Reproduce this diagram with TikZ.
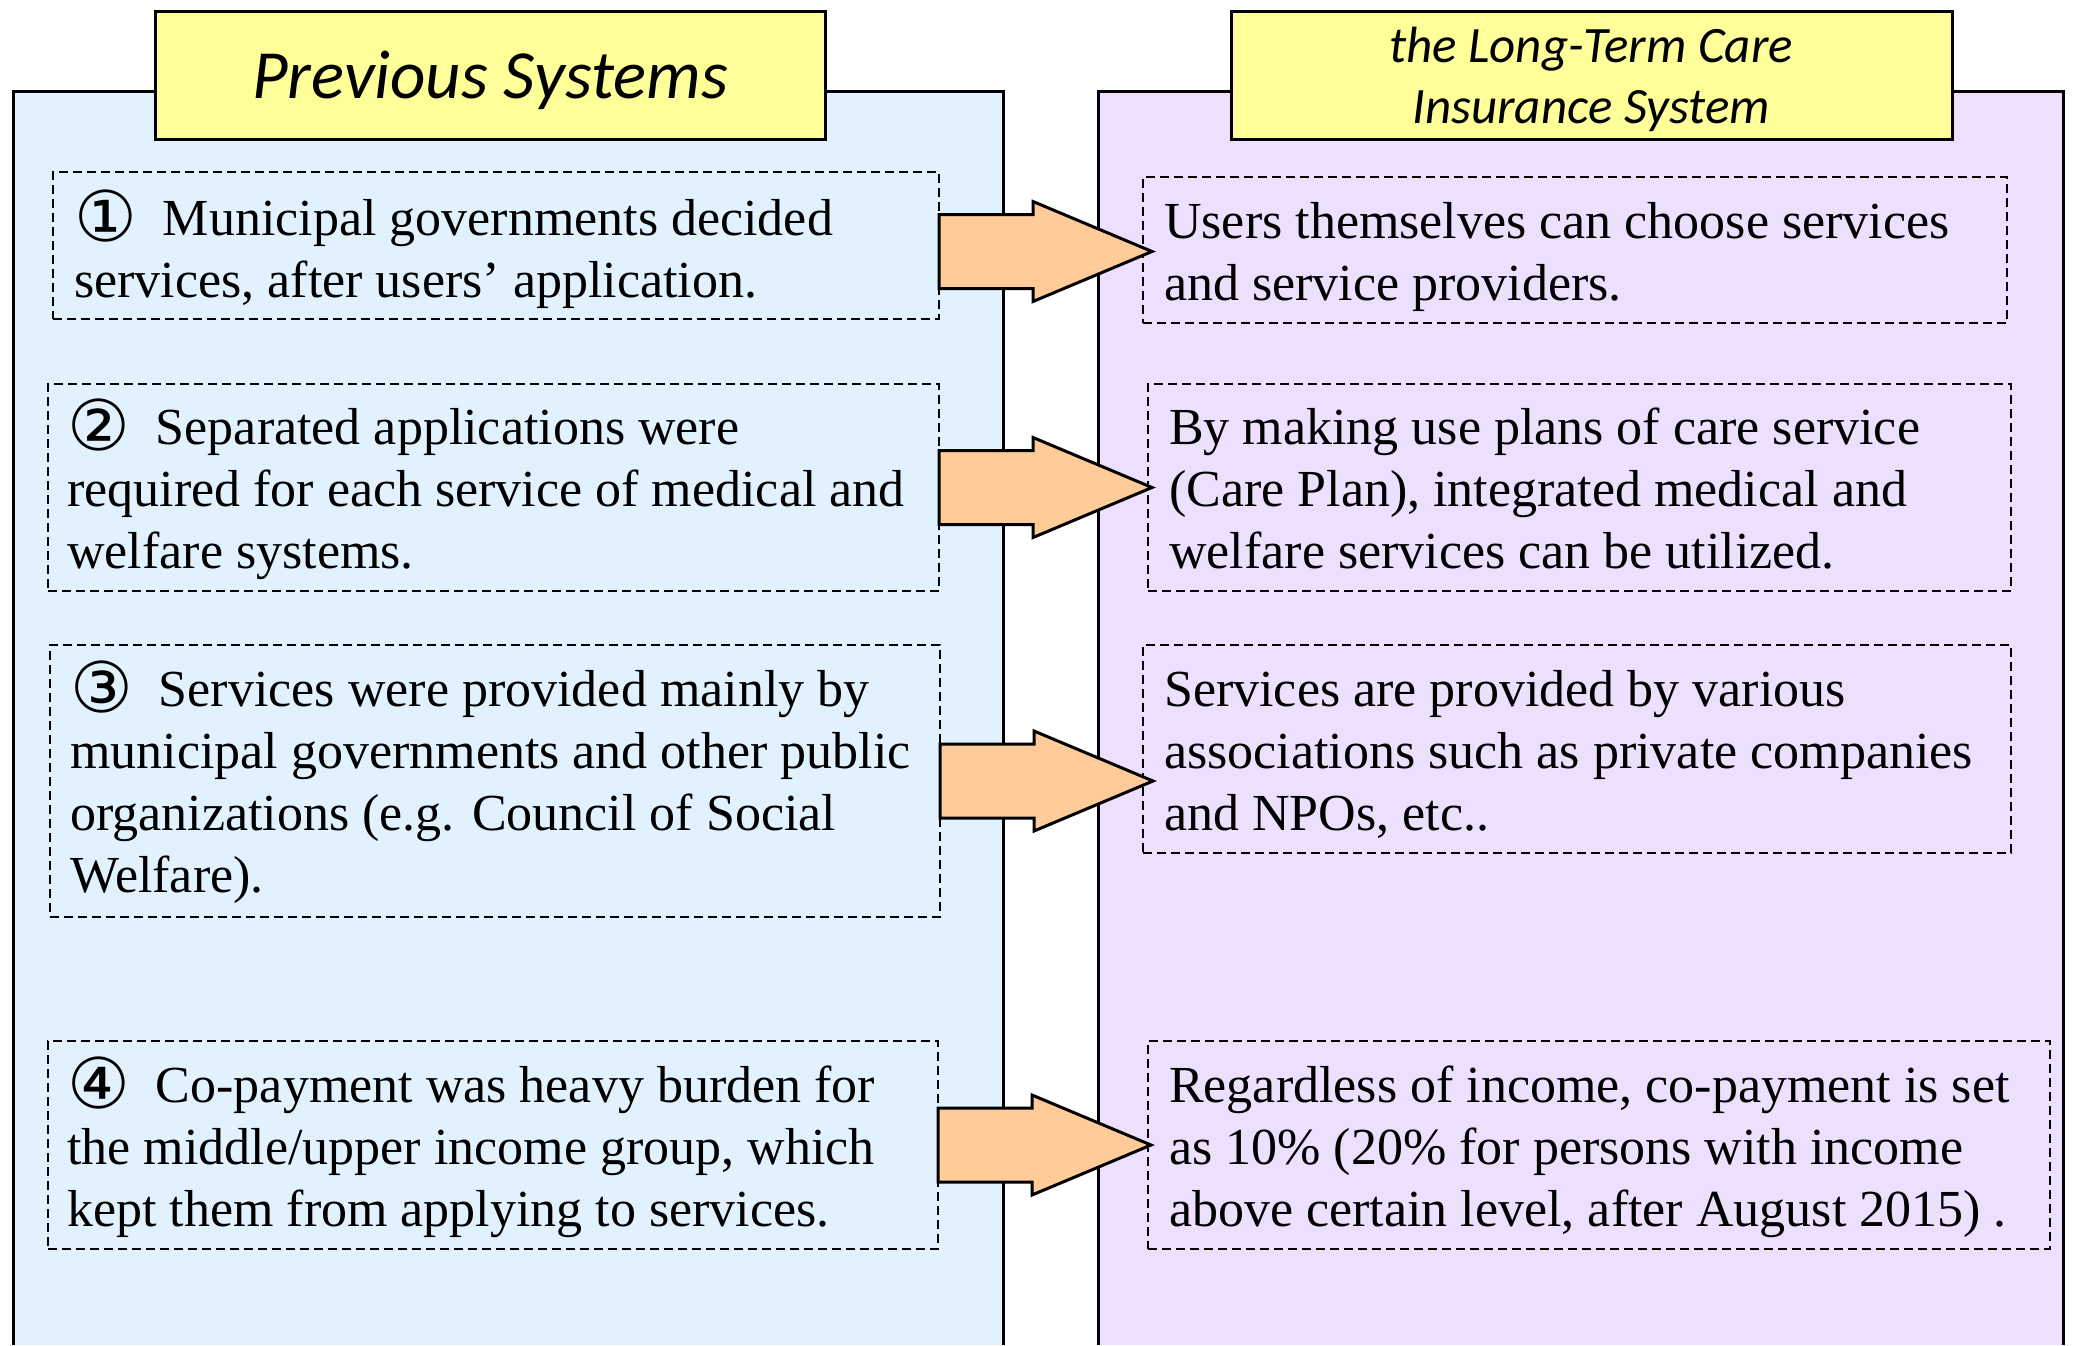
\documentclass[tikz,border=0pt]{standalone}
\usepackage{fontspec}
\setmainfont{Liberation Serif}
\newfontfamily\ttlfont{Carlito}
\newfontfamily\circfont{DejaVu Sans}
\usetikzlibrary{calc}
\definecolor{leftbg}{RGB}{225,242,254}
\definecolor{rightbg}{RGB}{237,223,254}
\definecolor{titleyellow}{RGB}{255,255,153}
\definecolor{arroworange}{RGB}{255,204,153}
\newcommand{\cnum}[1]{\raisebox{-6pt}{\circfont\fontsize{70}{70}\selectfont #1}\hspace{26pt}}
\tikzset{
  panelline/.style={line width=3pt},
  titlebox/.style={draw, line width=3pt, fill=titleyellow, inner sep=0pt, outer sep=0pt, anchor=north west},
  dashbox/.style={draw, dash pattern=on 9pt off 5pt, line width=2pt, inner sep=0pt, outer sep=0pt, anchor=north west},
  bodytext/.style={anchor=base west, inner sep=0pt, font=\fontsize{52}{62}\selectfont},
  bigarrow/.style={draw, line width=3pt, fill=arroworange, line join=miter},
}
\begin{document}
\begin{tikzpicture}[x=1pt, y=-1pt]
\useasboundingbox (0,0) rectangle (2074,1345);
% panels
\fill[leftbg] (13,91) rectangle (1003,1345);
\draw[panelline] (13,1345) -- (13,91) -- (1003,91) -- (1003,1345);
\fill[rightbg] (1098,91) rectangle (2063,1345);
\draw[panelline] (1098,1345) -- (1098,91) -- (2063,91) -- (2063,1345);
% titles
\node[titlebox, minimum width=670pt, minimum height=128pt] (lt) at (155,11) {};
\node[anchor=base, inner sep=0pt, font=\ttlfont\itshape\fontsize{69}{72}\selectfont] (ltt) at (490,98) {Previous Systems};
\node[titlebox, minimum width=721pt, minimum height=128pt] (rt) at (1231,11) {};
\node[anchor=base, inner sep=0pt, font=\ttlfont\itshape\fontsize{51}{61}\selectfont] (rtt) at (1591,62)
  {\begin{tabular}[t]{@{}c@{}}the Long-Term Care\\Insurance System\end{tabular}};
% left boxes
\node[dashbox, minimum width=886pt, minimum height=147pt] (l1) at (53,172) {};
\node[dashbox, minimum width=891pt, minimum height=207pt] (l2) at (48,384) {};
\node[dashbox, minimum width=890pt, minimum height=272pt] (l3) at (50,645) {};
\node[dashbox, minimum width=890pt, minimum height=208pt] (l4) at (48,1041) {};
% right boxes
\node[dashbox, minimum width=864pt, minimum height=146pt] (r1) at (1143,177) {};
\node[dashbox, minimum width=863pt, minimum height=207pt] (r2) at (1148,384) {};
\node[dashbox, minimum width=868pt, minimum height=208pt] (r3) at (1143,645) {};
\node[dashbox, minimum width=902pt, minimum height=208pt] (r4) at (1148,1041) {};
% left texts
\node[bodytext] (l1t) at (74,235) {\begin{tabular}[t]{@{}l@{}}\cnum{①}Municipal governments decided\\services, after users’ application.\end{tabular}};
\node[bodytext] (l2t) at (67,444) {\begin{tabular}[t]{@{}l@{}}\cnum{②}Separated applications were\\required for each service of medical and\\welfare systems.\end{tabular}};
\node[bodytext] (l3t) at (70,706) {\begin{tabular}[t]{@{}l@{}}\cnum{③}Services were provided mainly by\\municipal governments and other public\\organizations (e.g. Council of Social\\Welfare).\end{tabular}};
\node[bodytext] (l4t) at (67,1102) {\begin{tabular}[t]{@{}l@{}}\cnum{④}Co-payment was heavy burden for\\the middle/upper income group, which\\kept them from applying to services.\end{tabular}};
% right texts
\node[bodytext] (r1t) at (1164,238) {\begin{tabular}[t]{@{}l@{}}Users themselves can choose services\\and service providers.\end{tabular}};
\node[bodytext] (r2t) at (1169,444) {\begin{tabular}[t]{@{}l@{}}By making use plans of care service\\(Care Plan), integrated medical and\\welfare services can be utilized.\end{tabular}};
\node[bodytext] (r3t) at (1164,706) {\begin{tabular}[t]{@{}l@{}}Services are provided by various\\associations such as private companies\\and NPOs, etc..\end{tabular}};
\node[bodytext] (r4t) at (1169,1102) {\begin{tabular}[t]{@{}l@{}}Regardless of income, co-payment is set\\as 10\% (20\% for persons with income\\above certain level, after August 2015) .\end{tabular}};
% arrows
\foreach \s/\dy in {l1/6,l2/0,l3/0,l4/0}{
  \draw[bigarrow] ($(\s.east)+(0,\dy-37)$) -- ++(94,0) -- ++(0,-13) -- ++(119,50) -- ++(-119,50) -- ++(0,-13) -- ++(-94,0) -- cycle;
}
\end{tikzpicture}
\end{document}
